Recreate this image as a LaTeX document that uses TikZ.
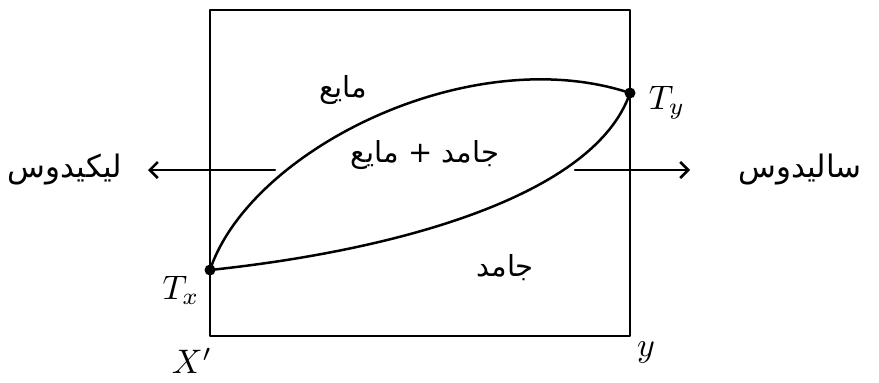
\documentclass[tikz,border=0pt]{standalone}
\usepackage{fontspec}
\usetikzlibrary{arrows.meta}
\newfontfamily\arabicfont[Script=Arabic]{DejaVu Sans}
\TeXXeTstate=1
\begin{document}
\begin{tikzpicture}[x=1pt,y=-1pt,
  line/.style={line width=2.5pt,line cap=round,line join=round},
  dotpt/.style={circle,fill=black,inner sep=0pt,minimum size=11pt},
  fa/.style={font=\arabicfont\fontsize{29}{34}\selectfont,inner sep=0pt},
  fab/.style={font=\arabicfont\fontsize{31}{36}\selectfont,inner sep=0pt},
  lbl/.style={inner sep=0pt},
  arr/.style={line,-{Straight Barb[length=8pt,width=16pt,line width=2.5pt]}}]
\useasboundingbox (0,0) rectangle (879,383);
\fill[white] (0,0) rectangle (879,383);
% box
\draw[line] (210,10) rectangle (630,336);
% points
\node[dotpt] (tx) at (210,270) {};
\node[dotpt] (ty) at (630,93) {};
% liquidus and solidus curves
\draw[line] (tx.center) .. controls (250,150) and (470,40) .. (ty.center);
\draw[line] (tx.center) .. controls (400,250) and (595,195) .. (ty.center);
% arrows
\coordinate (la) at (275,170);
\coordinate (lb) at (148,170);
\coordinate (ra) at (575,170);
\coordinate (rb) at (690,170);
\draw[arr] (la) -- (lb);
\draw[arr] (ra) -- (rb);
% region labels
\node[fa] (liq) at (343,90) {\beginR مایع\endR};
\node[fa] (mix) at (425,155) {\beginR جامد + مایع\endR};
\node[fa] (sol) at (505,268) {\beginR جامد\endR};
\node[fab] (liquidus) at (65,170) {\beginR لیکیدوس\endR};
\node[fab] (solidus) at (800,170) {\beginR سالیدوس\endR};
% axis labels
\node[lbl] (txl) at (181,290) {\scalebox{3.4}{$T_x$}};
\node[lbl] (tyl) at (667,103) {\scalebox{3.4}{$T_y$}};
\node[lbl] (xl) at (192,361) {\scalebox{3.4}{$X'$}};
\node[lbl] (yl) at (646,352) {\scalebox{3.4}{$y$}};
\end{tikzpicture}
\end{document}
